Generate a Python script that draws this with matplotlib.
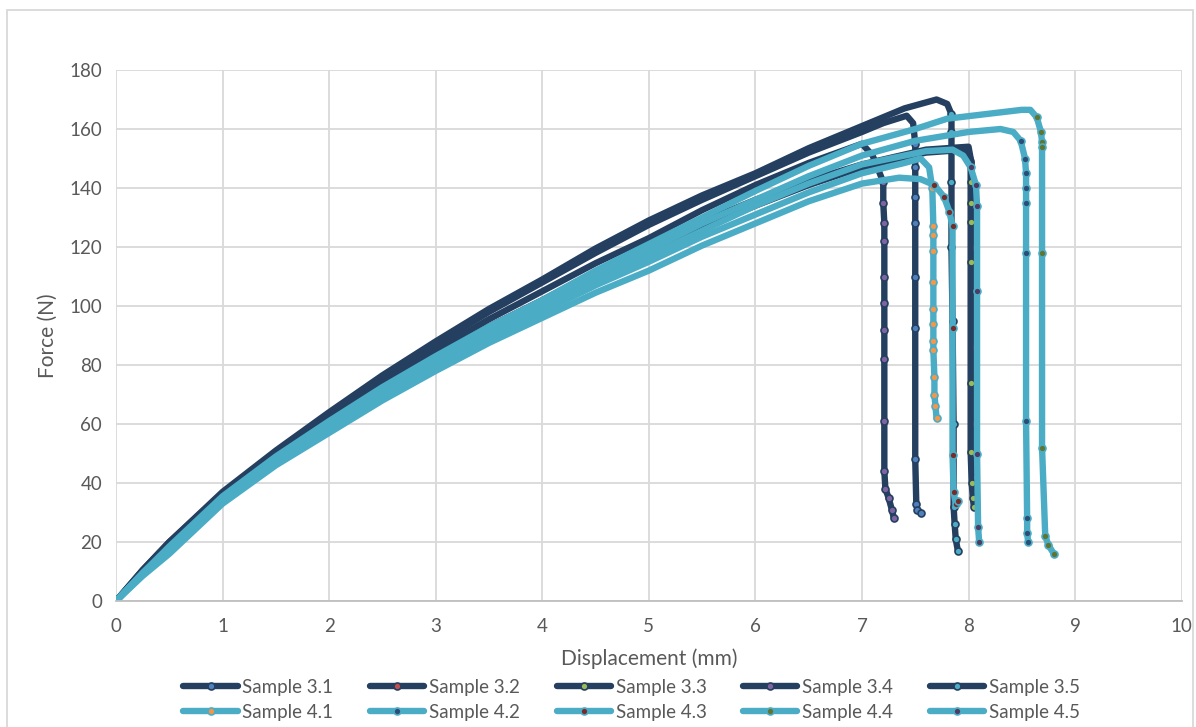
import matplotlib
matplotlib.use("Agg")
import matplotlib.pyplot as plt
from matplotlib.patches import Rectangle

plt.rcParams['font.family'] = ['Lato', 'DejaVu Sans']

# loading part, shared displacement grid (mm)
x_load = [0, 0.25, 0.5, 1, 1.5, 2, 2.5, 3, 3.5, 4, 4.5, 5, 5.5, 6, 6.5, 7]

# force (N) read along the loading part
s31_load = [0, 10.5, 20, 36.5, 50.5, 63.5, 75.5, 87, 98, 108, 118, 127.5, 136, 144, 152, 159]
s32_load = [0, 9.5, 18, 35, 48, 60, 71.5, 82, 92, 101, 110, 118, 126.5, 134, 141, 147]
s33_load = [0, 9.5, 18.5, 35, 48.5, 61, 72.5, 83, 93, 102, 111.5, 120, 128.5, 136, 142.5, 148]
s34_load = [0, 10, 19, 36, 49.5, 62, 74, 85, 95.5, 105, 114.5, 123, 132.5, 141, 148.5, 155]
s35_load = [0, 10.5, 20, 37, 51, 64, 76.5, 88, 99, 109, 119.5, 129, 137.5, 145, 153.5, 161]
s41_load = [0, 9, 17, 34, 47, 58, 69.5, 80, 89.5, 98, 107, 115, 123.5, 131, 138.5, 145]
s42_load = [0, 9.5, 18, 35, 48, 60, 71.5, 82, 91.5, 100, 110, 119, 128, 136, 144, 151]
s43_load = [0, 8.5, 16, 33, 46, 57, 68, 78, 87.5, 96, 104.5, 112, 120.5, 128, 135.5, 141.5]
s44_load = [0, 9.5, 18.5, 35.5, 49, 61, 72.5, 83, 93, 102, 112, 121, 130, 139, 147.5, 155]
s45_load = [0, 9, 17.5, 34.5, 47.5, 59, 70.5, 81, 90.5, 99, 108, 117, 125.5, 134, 141.5, 148]

# peak and failure part
s31_tx = [7.2, 7.42, 7.48, 7.5, 7.5, 7.5, 7.5, 7.5, 7.5, 7.5, 7.51, 7.52, 7.55]
s31_tf = [162, 164.5, 162, 155, 147, 137, 128, 110, 92.5, 48, 33, 31, 30]
s32_tx = [7.6, 7.98, 8.03, 8.03, 8.03, 8.03, 8.04, 8.05]
s32_tf = [152, 153, 149, 120, 86, 60, 47, 44]
s33_tx = [7.6, 8.0, 8.02, 8.02, 8.02, 8.02, 8.02, 8.02, 8.02, 8.03, 8.04, 8.05]
s33_tf = [153, 154, 150, 142, 135, 128.5, 115, 74, 50.5, 40, 35, 32]
s34_tx = [7.1, 7.2, 7.2, 7.21, 7.21, 7.21, 7.21, 7.21, 7.21, 7.21, 7.21, 7.22, 7.25, 7.28, 7.3]
s34_tf = [151, 142, 135, 128, 122, 110, 101, 92, 82, 61, 44, 38, 35, 31, 28]
s35_tx = [7.4, 7.7, 7.8, 7.84, 7.84, 7.84, 7.84, 7.85, 7.86, 7.86, 7.87, 7.88, 7.9]
s35_tf = [167, 170, 168.5, 165, 159, 142, 120, 95, 60, 32, 26, 21, 17]
s41_tx = [7.4, 7.55, 7.63, 7.66, 7.67, 7.67, 7.67, 7.67, 7.67, 7.67, 7.67, 7.67, 7.68, 7.68, 7.69, 7.7]
s41_tf = [148.5, 150, 147, 140, 127, 124, 118.5, 108, 99, 94, 88, 85, 76, 70, 66, 62]
s42_tx = [7.5, 8.0, 8.3, 8.42, 8.49, 8.53, 8.54, 8.54, 8.54, 8.54, 8.54, 8.55, 8.55, 8.56]
s42_tf = [156, 159, 160, 159, 156, 150, 145, 140, 135, 118, 61, 28, 23, 20]
s43_tx = [7.35, 7.55, 7.68, 7.77, 7.82, 7.85, 7.85, 7.85, 7.86, 7.88, 7.9]
s43_tf = [143.5, 143, 141, 137, 132, 127, 92.5, 49.5, 37, 33, 34]
s44_tx = [7.5, 7.8, 8.5, 8.58, 8.64, 8.68, 8.69, 8.69, 8.69, 8.69, 8.72, 8.75, 8.8]
s44_tf = [160, 163.5, 166.5, 166.5, 164, 159, 155.5, 154, 118, 52, 22, 19, 16]
s45_tx = [7.6, 7.85, 7.95, 8.02, 8.07, 8.08, 8.08, 8.08, 8.09, 8.1]
s45_tf = [152.5, 153, 151, 147, 141, 134, 105, 50, 25, 20]

names = ["Sample 3.1", "Sample 3.2", "Sample 3.3", "Sample 3.4", "Sample 3.5",
         "Sample 4.1", "Sample 4.2", "Sample 4.3", "Sample 4.4", "Sample 4.5"]
loads = [s31_load, s32_load, s33_load, s34_load, s35_load,
         s41_load, s42_load, s43_load, s44_load, s45_load]
tails_x = [s31_tx, s32_tx, s33_tx, s34_tx, s35_tx, s41_tx, s42_tx, s43_tx, s44_tx, s45_tx]
tails_f = [s31_tf, s32_tf, s33_tf, s34_tf, s35_tf, s41_tf, s42_tf, s43_tf, s44_tf, s45_tf]

dark = "#243f60"
light = "#4bacc6"
line_colors = [dark] * 5 + [light] * 5
marker_colors = ["#4f81bd", "#c0504d", "#9bbb59", "#8064a2", "#4bacc6",
                 "#f79646", "#2c4d75", "#772c2a", "#5f7530", "#4d3b62"]

text_color = "#595959"
grid_color = "#d9d9d9"

fig = plt.figure(figsize=(11.96, 7.27), dpi=100)
ax = fig.add_axes([0.097, 0.1733, 0.891, 0.7304])

handles = []
for name, load, tx, tf, lc, mc in zip(names, loads, tails_x, tails_f, line_colors, marker_colors):
    xs = x_load + tx
    fs = load + tf
    peak = fs.index(max(fs))
    marks = list(range(peak + 2, len(xs)))
    h, = ax.plot(xs, fs, color=lc, lw=4.6, marker='o', ms=5, mfc=mc, mec=lc, mew=1.2,
                 markevery=marks, solid_joinstyle='round', solid_capstyle='round', label=name)
    handles.append(h)

ax.set_xlim(0, 10)
ax.set_ylim(0, 180)
ax.set_xticks(range(0, 11))
ax.set_yticks(range(0, 181, 20))
ax.grid(True, color=grid_color, lw=1.3)
ax.set_axisbelow(True)
for side in ["top", "right", "left"]:
    ax.spines[side].set_visible(False)
ax.spines["bottom"].set_color("#bfbfbf")
ax.spines["bottom"].set_linewidth(1.3)
ax.tick_params(length=0, labelsize=13.5, colors=text_color, pad=12)
ax.tick_params(axis='y', pad=10)
ax.set_xlabel("Displacement (mm)", fontsize=15, color=text_color, labelpad=10)
ax.set_ylabel("Force (N)", fontsize=15, color=text_color, labelpad=8)

# legend: first row 3.x, second row 4.x
order = [0, 5, 1, 6, 2, 7, 3, 8, 4, 9]
leg = fig.legend([handles[i] for i in order], [names[i] for i in order], ncol=5,
                 loc='lower center', bbox_to_anchor=(0.528, -0.015), frameon=False,
                 fontsize=13.5, labelcolor=text_color, handlelength=2.9, handletextpad=0.25,
                 columnspacing=1.95, labelspacing=0.45)
for line in leg.get_lines():
    line.set_linewidth(4.6)

fig.patches.append(Rectangle((7 / 1196, -0.02), 1 - 10 / 1196, 1.02 - 10 / 727,
                             transform=fig.transFigure, fill=False,
                             edgecolor=grid_color, lw=1.3))

fig.savefig("out.png", dpi=100, facecolor="white")
